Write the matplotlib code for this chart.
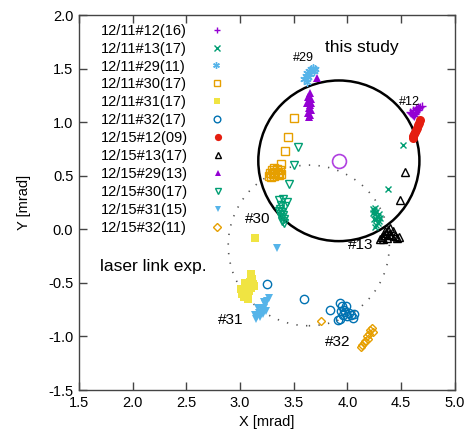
import numpy as np
import matplotlib
matplotlib.use("Agg")
import matplotlib.pyplot as plt
from matplotlib.patches import Circle

plt.rcParams['font.family'] = ['Liberation Sans', 'DejaVu Sans']

# measured spot positions [mrad]
s1211_12_x = [4.58, 4.59, 4.60, 4.61, 4.62, 4.63, 4.64, 4.65, 4.66, 4.67, 4.68, 4.69, 4.66, 4.64, 4.61, 4.63]
s1211_12_y = [1.10, 1.09, 1.08, 1.07, 1.06, 1.08, 1.10, 1.12, 1.11, 1.13, 1.14, 1.15, 1.14, 1.13, 1.11, 1.09]

s1211_13_x = [4.52, 4.38, 4.24, 4.25, 4.26, 4.27, 4.26, 4.28, 4.27, 4.29, 4.28, 4.27, 4.26, 4.25, 4.29, 4.30, 4.24]
s1211_13_y = [0.79, 0.38, 0.19, 0.17, 0.20, 0.16, 0.14, 0.12, 0.10, 0.08, 0.06, 0.04, 0.02, 0.10, 0.14, 0.11, 0.15]

s1211_29_x = [3.62, 3.60, 3.61, 3.62, 3.64, 3.66, 3.68, 3.70, 3.65, 3.63, 3.69]
s1211_29_y = [1.38, 1.40, 1.43, 1.46, 1.48, 1.50, 1.51, 1.50, 1.45, 1.42, 1.48]

s1211_30_x = [3.50, 3.45, 3.42, 3.38, 3.27, 3.28, 3.30, 3.31, 3.32, 3.33, 3.34, 3.35, 3.36, 3.37, 3.29, 3.32, 3.38]
s1211_30_y = [1.04, 0.86, 0.73, 0.61, 0.50, 0.53, 0.55, 0.52, 0.50, 0.54, 0.56, 0.53, 0.51, 0.55, 0.49, 0.57, 0.52]

s1211_31_x = [3.14, 3.10, 3.11, 3.09, 3.07, 3.05, 3.03, 3.02, 3.04, 3.06, 3.08, 3.10, 3.12, 3.05, 3.01, 3.07, 3.13]
s1211_31_y = [-0.08, -0.42, -0.46, -0.49, -0.52, -0.55, -0.57, -0.60, -0.63, -0.61, -0.58, -0.55, -0.51, -0.50, -0.56, -0.65, -0.53]

s1211_32_x = [3.25, 3.60, 3.84, 3.93, 3.95, 3.97, 3.99, 4.01, 4.03, 4.05, 3.96, 3.93, 3.91, 3.98, 4.00, 4.06, 3.94]
s1211_32_y = [-0.51, -0.65, -0.75, -0.69, -0.72, -0.75, -0.72, -0.78, -0.80, -0.83, -0.80, -0.84, -0.85, -0.77, -0.81, -0.79, -0.76]

s1215_12_x = [4.68, 4.67, 4.66, 4.65, 4.64, 4.63, 4.62, 4.61, 4.61]
s1215_12_y = [1.02, 0.99, 0.97, 0.95, 0.93, 0.91, 0.89, 0.87, 0.85]

s1215_13_x = [4.54, 4.49, 4.30, 4.32, 4.34, 4.36, 4.38, 4.40, 4.42, 4.44, 4.46, 4.37, 4.35, 4.41, 4.48, 4.39, 4.33]
s1215_13_y = [0.54, 0.27, -0.09, -0.07, -0.05, -0.03, -0.01, 0.01, -0.02, -0.06, -0.08, -0.08, -0.02, -0.05, -0.07, -0.04, -0.09]

s1215_29_x = [3.72, 3.65, 3.63, 3.66, 3.64, 3.62, 3.65, 3.64, 3.66, 3.63, 3.65, 3.64, 3.66]
s1215_29_y = [1.41, 1.27, 1.24, 1.22, 1.20, 1.18, 1.16, 1.13, 1.11, 1.09, 1.07, 1.05, 1.18]

s1215_30_x = [3.54, 3.50, 3.46, 3.36, 3.40, 3.44, 3.38, 3.42, 3.37, 3.39, 3.40, 3.41, 3.38, 3.36, 3.39, 3.41, 3.37]
s1215_30_y = [0.77, 0.60, 0.42, 0.27, 0.28, 0.26, 0.23, 0.22, 0.19, 0.16, 0.13, 0.10, 0.12, 0.17, 0.08, 0.06, 0.14]

s1215_31_x = [3.34, 3.27, 3.25, 3.23, 3.22, 3.20, 3.18, 3.16, 3.15, 3.19, 3.21, 3.24, 3.17, 3.22, 3.14]
s1215_31_y = [-0.17, -0.64, -0.67, -0.70, -0.73, -0.75, -0.78, -0.81, -0.84, -0.82, -0.79, -0.76, -0.73, -0.68, -0.80]

s1215_32_x = [3.75, 4.23, 4.21, 4.24, 4.20, 4.18, 4.19, 4.16, 4.15, 4.14, 4.13]
s1215_32_y = [-0.86, -0.92, -0.94, -0.96, -0.98, -1.00, -1.02, -1.04, -1.06, -1.08, -1.10]

# field of view circles
study_center = (3.92, 0.64)
laser_center = (3.64, -0.15)
fov_radius = 0.75

fig = plt.figure(figsize=(4.67, 4.40), dpi=100)
ax = fig.add_axes([0.169, 0.1136, 0.805, 0.852])

series = [
    ("12/11#12(16)", s1211_12_x, s1211_12_y, dict(marker='+', color='#9400D3', ms=6, mew=1.0)),
    ("12/11#13(17)", s1211_13_x, s1211_13_y, dict(marker='x', color='#009E73', ms=5, mew=1.0)),
    ("12/11#29(11)", s1211_29_x, s1211_29_y, dict(marker=(6, 2, 0), color='#56B4E9', ms=6, mew=1.0)),
    ("12/11#30(17)", s1211_30_x, s1211_30_y, dict(marker='s', mfc='none', mec='#E69F00', color='#E69F00', ms=5.5, mew=1.0)),
    ("12/11#31(17)", s1211_31_x, s1211_31_y, dict(marker='s', color='#F0E442', ms=5.5, mew=0)),
    ("12/11#32(17)", s1211_32_x, s1211_32_y, dict(marker='o', mfc='none', mec='#0072B2', color='#0072B2', ms=6, mew=1.0)),
    ("12/15#12(09)", s1215_12_x, s1215_12_y, dict(marker='o', color='#E51E10', ms=6.5, mew=0)),
    ("12/15#13(17)", s1215_13_x, s1215_13_y, dict(marker='^', mfc='none', mec='black', color='black', ms=5.5, mew=1.0)),
    ("12/15#29(13)", s1215_29_x, s1215_29_y, dict(marker='^', color='#9400D3', ms=6, mew=0)),
    ("12/15#30(17)", s1215_30_x, s1215_30_y, dict(marker='v', mfc='none', mec='#009E73', color='#009E73', ms=5.5, mew=1.0)),
    ("12/15#31(15)", s1215_31_x, s1215_31_y, dict(marker='v', color='#56B4E9', ms=6, mew=0)),
    ("12/15#32(11)", s1215_32_x, s1215_32_y, dict(marker='D', mfc='none', mec='#E69F00', color='#E69F00', ms=4.5, mew=1.0)),
]

ax.add_patch(Circle(laser_center, fov_radius, fill=False, ec='#555555', lw=1.2,
                    linestyle=(0, (0.8, 5.0)), zorder=1))
ax.add_patch(Circle(study_center, fov_radius, fill=False, ec='black', lw=1.8, zorder=1))

for label, xs, ys, st in series:
    ax.plot(xs, ys, linestyle='none', label=label, zorder=3, **st)

ax.plot([study_center[0]], [study_center[1]], linestyle='none', marker='o', mfc='none',
        mec='#B040E0', ms=10, mew=1.2, zorder=3)

ax.text(4.13, 1.70, "this study", fontsize=12.5, ha='center', va='center')
ax.text(1.70, -0.35, "laser link exp.", fontsize=12.5, ha='left', va='center')
ax.text(3.59, 1.60, "#29", fontsize=9, ha='center', va='center')
ax.text(4.58, 1.19, "#12", fontsize=9, ha='center', va='center')
ax.text(3.16, 0.10, "#30", fontsize=11, ha='center', va='center')
ax.text(4.12, -0.15, "#13", fontsize=11, ha='center', va='center')
ax.text(2.91, -0.85, "#31", fontsize=11, ha='center', va='center')
ax.text(3.91, -1.05, "#32", fontsize=11, ha='center', va='center')

ax.set_xlim(1.5, 5.0)
ax.set_ylim(-1.5, 2.0)
ax.set_xticks(np.arange(1.5, 5.01, 0.5))
ax.set_yticks(np.arange(-1.5, 2.01, 0.5))
ax.xaxis.set_major_formatter(matplotlib.ticker.FormatStrFormatter('%.1f'))
ax.yaxis.set_major_formatter(matplotlib.ticker.FormatStrFormatter('%.1f'))
ax.tick_params(direction='in', top=True, right=True, length=6, width=1,
               color='#444444', labelsize=10.5, pad=4)
for sp in ax.spines.values():
    sp.set_color('#444444')
    sp.set_linewidth(1.0)
ax.set_xlabel("X [mrad]", fontsize=10.5, labelpad=4)
ax.set_ylabel("Y [mrad]", fontsize=10.5, labelpad=12)

leg = ax.legend(loc='upper left', bbox_to_anchor=(0.05, 0.985), markerfirst=False,
                frameon=False, fontsize=10.5, handlelength=1.0, handletextpad=1.6,
                labelspacing=0.27, borderpad=0.2, borderaxespad=0.0, markerscale=0.8)
# left-align the label column like the original
for col in leg._legend_handle_box.get_children():
    col.align = 'left'

fig.savefig("out.png", dpi=100)
